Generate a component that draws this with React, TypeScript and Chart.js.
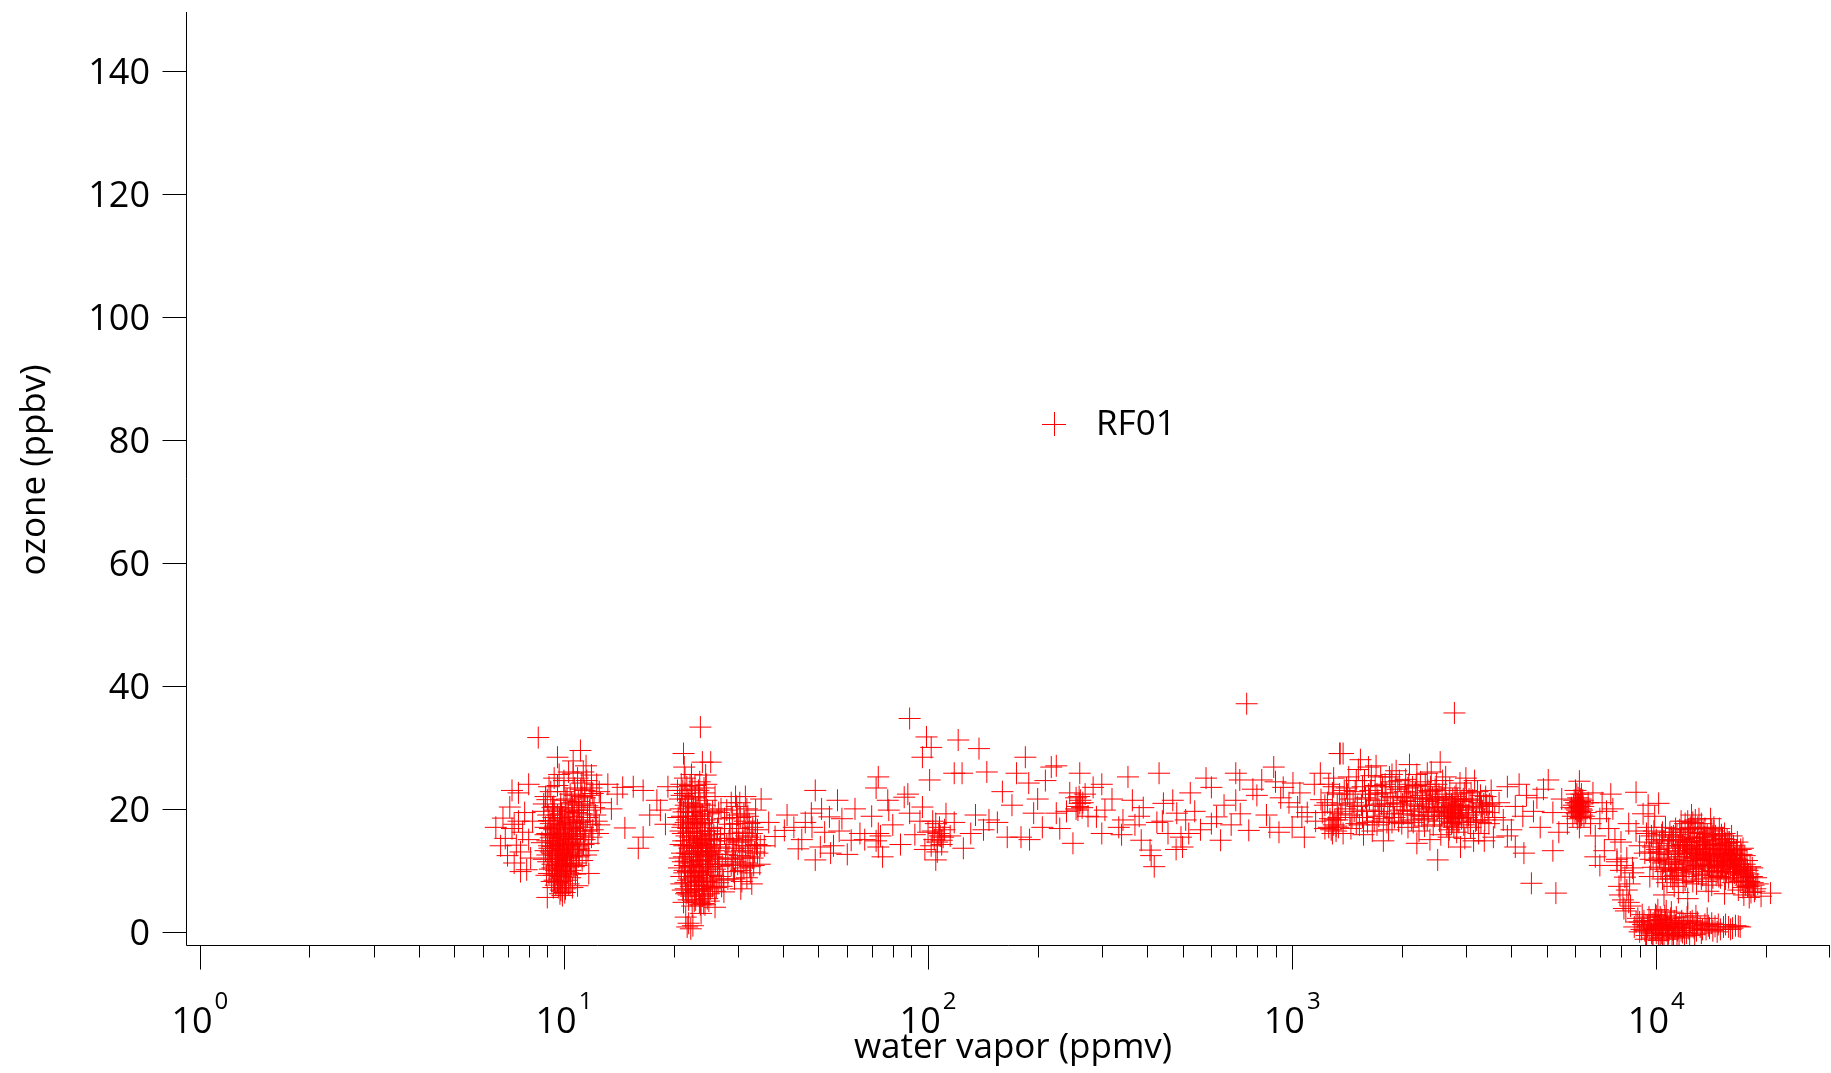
import React, { useEffect, useRef } from 'react';
import { Chart, registerables } from 'chart.js';

Chart.register(...registerables);

type P = [number, number];

const X_MIN = 0.922;
const X_MAX = 30000;
const Y_MIN = -2.3;
const Y_MAX = 149.6;
const yTickValues = [0, 20, 40, 60, 80, 100, 120, 140];
const xMajorExponents = [0, 1, 2, 3, 4];
const xMinorMultipliers = [2, 3, 4, 5, 6, 7, 8, 9];
const seriesLabel = 'RF01';
const xTitle = 'water vapor (ppmv)';
const yTitle = 'ozone (ppbv)';

const groupLeft: P[] = [
  [6.5, 17.0], [6.8, 18.5], [6.9, 15.2], [7.0, 12.4], [7.1, 20.3], [7.2, 16.8], [7.3, 11.2], [7.4, 14.1],
  [7.5, 22.6], [7.5, 18.0], [7.6, 13.0], [7.7, 16.2], [7.8, 19.4], [7.9, 10.1], [8.0, 15.0], [8.0, 24.0],
  [8.1, 12.0], [7.3, 17.5], [7.6, 9.8], [7.2, 23.0], [8.2, 18.0], [6.7, 14.0],
];

const groupTen: P[] = [
  [9.0, 21.5], [9.3, 20.2], [9.6, 19.0], [9.1, 18.1], [9.8, 17.4], [9.4, 16.6], [10.1, 16.0], [9.2, 15.3],
  [9.7, 14.8], [10.3, 14.2], [9.5, 13.6], [9.9, 13.0], [9.0, 12.5], [10.2, 12.0], [9.6, 11.5], [9.3, 11.0],
  [10.0, 10.4], [9.7, 9.9], [9.4, 9.2], [10.4, 8.8], [9.8, 8.2], [9.5, 7.6], [10.1, 7.0], [9.9, 6.6],
  [8.8, 19.6], [8.9, 17.0], [8.7, 14.5], [8.9, 13.2], [8.8, 11.8], [9.1, 9.5], [9.2, 22.8], [10.5, 21.0],
  [10.6, 18.8], [10.8, 17.2], [10.5, 15.5], [10.9, 14.0], [10.6, 12.8], [10.8, 11.2], [10.4, 10.0], [11.0, 19.8],
  [11.2, 22.0], [11.1, 16.4], [11.3, 18.0], [11.0, 13.5], [11.4, 15.0], [11.2, 24.2], [10.7, 23.4], [10.0, 24.6],
  [9.6, 23.8], [11.6, 20.5], [11.8, 17.5], [11.5, 12.5], [12.0, 22.5], [12.2, 19.0], [12.4, 16.0], [11.9, 25.5],
  [12.6, 21.0], [10.3, 26.0], [9.4, 25.0], [11.5, 27.0],
  [9.5, 14.4], [9.8, 15.6], [9.7, 12.2], [9.3, 13.9], [10.0, 14.6], [9.6, 16.9], [9.2, 17.6], [10.2, 17.8],
  [9.9, 18.6], [9.4, 19.8], [10.3, 19.5], [9.5, 10.7], [9.8, 11.8], [10.1, 11.1], [9.3, 12.7], [9.7, 8.6],
  [10.0, 9.1], [9.1, 14.0], [9.0, 16.0], [10.4, 13.3], [10.6, 16.8], [9.8, 20.8], [10.2, 21.6], [10.0, 22.8],
  [8.5, 31.6], [11.1, 29.5], [9.6, 28.4], [10.6, 27.8], [9.0, 5.6], [10.9, 7.5], [9.9, 5.9], [11.7, 9.5],
];

const groupTenCore: P[] = [
  [9.15, 10.2], [9.25, 12.0], [9.35, 14.8], [9.45, 17.2], [9.55, 9.4], [9.65, 12.8], [9.75, 15.2], [9.85, 10.2],
  [9.95, 16.4], [10.05, 12.6], [10.15, 8.4], [10.25, 15.0], [10.35, 11.6], [10.45, 17.0], [10.55, 13.8], [10.65, 10.6],
  [10.75, 15.8], [10.85, 19.4], [10.95, 12.2], [11.05, 17.8], [9.05, 19.0], [9.15, 16.8], [9.25, 8.2], [9.35, 18.6],
  [9.45, 11.4], [9.55, 15.8], [9.65, 7.2], [9.75, 13.6], [9.85, 19.2], [9.95, 11.0], [10.05, 18.2], [10.15, 14.0],
  [10.25, 9.6], [10.35, 16.6], [10.45, 12.2], [10.55, 20.2], [10.65, 14.6], [10.75, 9.4], [10.85, 16.0], [10.95, 21.2],
  [9.6, 13.2], [9.7, 10.8], [9.8, 14.2], [9.9, 12.0], [10.0, 13.8], [9.5, 12.4], [9.4, 15.6], [9.3, 10.4],
  [9.6, 8.0], [9.8, 6.8], [10.1, 9.8], [10.3, 7.8], [9.2, 13.0], [9.0, 14.8], [8.9, 15.8], [8.8, 20.8],
  [8.9, 22.0], [11.3, 20.8], [11.4, 23.0], [11.6, 18.6], [11.8, 22.2], [12.0, 16.6], [11.7, 14.4], [12.3, 24.0],
  [10.4, 22.4], [10.9, 25.0], [11.3, 26.0],
  [8.95, 9.2], [9.05, 11.4], [9.12, 13.6], [9.22, 15.8], [9.28, 18.0], [9.38, 20.4], [9.42, 8.4], [9.52, 10.0],
  [9.58, 11.8], [9.62, 14.0], [9.68, 16.2], [9.72, 18.4], [9.78, 20.0], [9.82, 9.0], [9.88, 11.2], [9.92, 13.4],
  [9.98, 15.4], [10.02, 17.4], [10.08, 19.6], [10.12, 21.4], [10.18, 10.6], [10.22, 12.4], [10.28, 14.4], [10.32, 16.0],
  [10.38, 18.0], [10.42, 9.4], [10.48, 11.0], [10.52, 13.0], [10.58, 15.2], [10.62, 17.6], [10.68, 19.8], [10.72, 22.2],
  [10.78, 13.4], [10.82, 10.8], [10.88, 15.0], [10.92, 18.2], [10.98, 20.6], [11.02, 12.4], [11.08, 15.6], [11.12, 23.2],
  [11.18, 19.2], [11.22, 11.6], [11.28, 17.0], [11.32, 14.2], [11.42, 21.8], [11.48, 16.4], [11.55, 24.6], [11.65, 13.2],
  [11.75, 19.8], [11.9, 15.4], [12.1, 20.2], [12.3, 18.0], [12.5, 22.8], [9.35, 7.2], [9.75, 6.2], [10.05, 6.4],
  [10.55, 7.2], [9.1, 23.6], [9.7, 25.6], [10.6, 25.8], [11.9, 23.4], [12.5, 17.4],
];

const groupBetween: P[] = [
  [13.2, 24.0], [14.5, 23.5], [15.5, 23.6], [16.5, 23.0], [14.7, 16.9], [16.5, 15.4], [16.0, 13.6], [18.0, 21.4],
  [14.0, 22.4], [13.5, 20.0], [17.2, 19.0], [19.0, 17.5], [19.3, 23.6], [18.4, 19.8],
];

const groupTwenty: P[] = [
  [21.0, 24.0], [21.5, 22.5], [22.0, 21.0], [22.5, 23.2], [23.0, 20.2], [23.5, 22.0], [24.0, 19.0], [21.3, 19.5],
  [21.8, 18.2], [22.3, 17.0], [22.8, 18.8], [23.3, 16.3], [23.8, 17.4], [24.3, 15.6], [21.2, 16.0], [21.7, 14.8],
  [22.2, 15.4], [22.7, 13.8], [23.2, 14.5], [23.7, 13.0], [24.5, 12.4], [21.1, 12.8], [21.6, 11.5], [22.1, 12.2],
  [22.6, 10.6], [23.1, 11.4], [23.6, 9.8], [24.1, 10.9], [24.8, 9.2], [21.4, 9.6], [21.9, 8.4], [22.4, 9.0],
  [22.9, 7.6], [23.4, 8.2], [23.9, 6.8], [24.4, 7.4], [25.0, 6.2], [22.0, 6.0], [23.0, 5.2], [24.2, 4.6],
  [25.5, 8.6], [26.0, 10.2], [25.2, 11.8], [26.2, 7.2], [25.8, 13.2], [26.6, 12.0], [25.3, 15.0], [24.9, 17.8],
  [25.6, 19.6], [24.6, 21.4], [22.4, 25.6], [23.6, 24.4], [21.4, 26.8], [20.8, 21.6], [20.6, 18.6], [20.9, 14.2],
  [20.7, 10.4], [21.0, 7.8], [20.5, 23.0], [26.8, 9.0], [27.2, 11.0], [27.5, 6.5],
  [24.0, 27.6], [25.3, 27.6], [23.7, 33.3], [21.3, 29.0], [24.5, 25.5], [26.0, 22.0], [27.0, 20.0],
  [21.8, 0.8], [22.0, 1.4], [22.3, 0.5], [22.6, 1.0], [21.6, 2.4], [23.8, 3.0], [26.0, 4.0],
];

const groupTwentyCore: P[] = [
  [21.2, 23.0], [21.6, 20.6], [22.0, 18.8], [22.4, 22.0], [22.8, 16.0], [23.2, 19.6], [23.6, 15.2], [24.0, 17.6],
  [24.4, 20.6], [21.3, 17.4], [21.7, 15.6], [22.1, 13.6], [22.5, 19.4], [22.9, 14.0], [23.3, 12.6], [23.7, 16.0],
  [24.1, 13.8], [24.5, 11.0], [21.4, 14.0], [21.8, 12.8], [22.2, 10.6], [22.6, 15.0], [23.0, 9.2], [23.4, 13.6],
  [23.8, 11.6], [24.2, 8.8], [24.6, 14.2], [21.5, 10.8], [21.9, 9.8], [22.3, 7.4], [22.7, 11.8], [23.1, 6.6],
  [23.5, 10.4], [23.9, 8.4], [24.3, 6.0], [24.7, 10.6], [21.6, 7.0], [22.0, 5.2], [22.4, 12.6], [22.8, 8.8],
  [23.2, 17.8], [23.6, 7.0], [24.0, 5.8], [24.8, 12.8], [25.2, 9.8], [25.6, 7.4], [26.0, 12.6], [25.4, 13.6],
  [21.1, 18.8], [21.9, 21.6], [22.7, 20.4], [23.5, 18.4], [24.3, 22.6], [25.1, 16.4], [25.9, 14.8], [26.4, 11.0],
  [26.8, 13.8], [27.4, 8.4], [21.3, 4.8], [22.5, 4.2], [23.7, 4.4], [25.0, 5.0], [21.5, 25.0], [22.9, 23.8],
  [20.9, 16.4], [20.8, 12.0], [21.0, 9.0],
  [20.9, 20.0], [21.05, 22.2], [21.15, 17.0], [21.25, 14.8], [21.35, 12.2], [21.45, 10.0], [21.55, 8.0], [21.65, 6.2],
  [21.75, 23.6], [21.85, 19.6], [21.95, 16.8], [22.05, 14.0], [22.15, 11.2], [22.25, 8.6], [22.35, 5.8], [22.45, 20.8],
  [22.55, 17.6], [22.65, 12.6], [22.75, 9.6], [22.85, 6.8], [22.95, 21.8], [23.05, 18.4], [23.15, 15.6], [23.25, 13.2],
  [23.35, 10.0], [23.45, 7.0], [23.55, 4.8], [23.65, 20.8], [23.75, 18.8], [23.85, 14.4], [23.95, 12.2], [24.05, 9.6],
  [24.15, 7.6], [24.25, 23.4], [24.35, 18.2], [24.45, 16.4], [24.55, 13.0], [24.65, 8.2], [24.75, 5.4], [24.85, 15.0],
  [24.95, 11.0], [25.05, 19.2], [25.15, 13.0], [25.25, 7.0], [25.35, 10.6], [25.45, 17.0], [25.55, 12.2], [25.7, 9.2],
  [25.8, 15.8], [25.95, 6.6], [26.1, 11.4], [26.3, 14.2], [26.5, 8.0], [26.7, 10.6], [26.9, 15.2], [27.1, 7.4],
  [21.2, 6.8], [22.2, 23.8], [23.4, 23.0], [24.6, 24.0], [21.6, 17.8], [22.6, 18.0], [23.0, 13.0], [23.8, 9.2],
  [22.4, 10.8], [21.2, 11.4], [21.8, 6.4], [22.8, 5.0], [24.4, 4.4], [23.2, 8.0], [24.0, 14.8], [24.8, 19.8],
  [22.0, 16.2], [23.6, 11.0], [25.0, 14.0], [26.4, 16.8], [27.8, 12.6], [28.2, 8.6], [27.6, 18.4], [26.6, 19.4],
];

const groupThirty: P[] = [
  [28.0, 19.8], [28.5, 17.5], [29.0, 15.2], [29.5, 13.0], [30.0, 11.0], [30.5, 18.6], [31.0, 16.2], [31.5, 14.0],
  [32.0, 12.2], [32.5, 9.6], [33.0, 17.0], [33.5, 15.0], [34.0, 12.8], [30.8, 8.2], [29.2, 9.8], [28.2, 12.0],
  [28.8, 21.0], [31.8, 20.0], [33.6, 19.8], [34.5, 11.0], [32.8, 7.8], [27.6, 16.0], [30.2, 14.6], [31.2, 10.4],
  [29.8, 17.6], [35.5, 14.0], [36.5, 17.8], [34.8, 21.6], [31.5, 22.0],
  [28.4, 14.8], [29.0, 18.6], [29.6, 11.4], [30.2, 16.8], [30.8, 13.2], [31.4, 18.0], [32.0, 15.4], [32.6, 13.6],
  [33.2, 10.8], [33.8, 14.2], [29.4, 8.6], [30.6, 10.0], [31.8, 8.8], [31.0, 12.0], [32.3, 17.6], [29.8, 20.4],
  [30.4, 21.0], [33.0, 12.0], [28.8, 10.8], [31.6, 15.6],
  [28.6, 16.0], [29.2, 13.6], [29.8, 15.0], [30.4, 12.4], [31.0, 14.8], [31.6, 11.2], [32.2, 14.0], [32.8, 16.0],
  [33.4, 13.0], [34.0, 16.6], [29.0, 11.8], [30.0, 19.0], [31.2, 19.2], [32.4, 10.6], [33.6, 17.8], [34.6, 14.0],
  [28.0, 14.2], [30.6, 7.0], [32.0, 18.8], [29.6, 22.0],
];

const groupMiddle: P[] = [
  [40.3, 16.5], [42.8, 17.0], [47.8, 19.3], [49, 23.0], [50.6, 13.8], [53.6, 18.7], [56.4, 21.4], [49, 11.7],
  [61.5, 14.9], [65, 16.0], [73, 25.2], [73, 16.0], [73, 13.8], [77.5, 21.4], [86, 21.9], [89, 19.3],
  [89, 34.7], [99, 31.7], [102, 30.0], [96.5, 28.4], [101, 24.7], [107.5, 17.0], [109, 14.9], [105, 11.7],
  [121, 31.2], [124, 25.8], [138, 29.8], [118, 25.8], [96.5, 20.3], [131, 16.0], [147, 18.2], [165, 15.4],
  [180, 15.4], [175, 25.8], [185, 28.4], [189, 24.2], [195, 19.3], [218, 26.8], [225, 27.0], [206, 17.0],
  [225, 19.3], [261, 20.9], [261, 25.8], [284, 23.5], [250, 14.4], [290, 18.7], [306, 19.8], [334, 17.0],
  [354, 25.2], [364, 21.4], [343, 18.2], [385, 14.9], [407, 13.3], [418, 10.6], [431, 25.8], [443, 20.9],
  [456, 16.0], [482, 19.3], [495, 15.4], [525, 22.6], [510, 18.2], [600, 23.5], [620, 18.7], [636, 14.9],
  [700, 21.4], [718, 24.7], [750, 37.1], [760, 16.5], [825, 24.7], [868, 17.0], [890, 26.8], [945, 23.5],
  [1005, 24.2], [1035, 20.3], [1063, 18.7], [1195, 25.8], [1260, 17.0], [1330, 18.2], [1350, 29.0], [1290, 16.0],
  [38, 15.5], [41, 19.0], [44, 13.5], [46, 17.8], [52, 16.2], [55, 14.0], [58, 18.4], [60, 12.6],
  [63, 20.0], [67, 15.0], [70, 18.8], [75, 12.2], [80, 17.4], [84, 14.2], [92, 15.8], [95, 18.0],
  [98, 13.4], [103, 16.4], [106, 14.6], [112, 19.2], [115, 15.6], [118, 17.8], [125, 13.6], [135, 19.0],
  [142, 16.6], [155, 17.8], [170, 20.6], [200, 21.6], [210, 24.6], [240, 19.6], [245, 22.6], [255, 21.8],
  [258, 19.8], [265, 20.2], [270, 22.4], [275, 18.8], [300, 16.0], [320, 21.6], [340, 15.8], [370, 17.4],
  [390, 20.2], [410, 12.4], [425, 17.8], [470, 21.4], [500, 13.8], [540, 19.6], [560, 16.6], [580, 25.0],
  [650, 20.6], [680, 17.4], [800, 22.2], [850, 19.0], [920, 16.2], [980, 21.0], [1100, 19.4], [1150, 24.0],
  [1080, 15.4], [900, 24.4], [700, 25.8], [300, 24.0], [230, 16.8], [160, 22.8], [145, 26.0], [190, 15.0],
  [88, 22.4], [78, 19.8], [72, 23.4], [104, 15.0], [107, 16.0], [109, 14.2], [105, 17.6], [110, 15.4],
  [72, 14.8], [74, 15.6],
  [100, 16.2], [102, 14.0], [103, 18.0], [108, 15.6], [111, 16.6], [106, 13.0], [262, 21.4], [258, 20.4],
  [266, 21.0], [260, 22.0], [255, 20.0], [45, 15.0], [48, 17.0], [51, 20.0], [54, 12.8], [57, 16.4],
  [380, 18.8], [440, 18.0], [480, 13.4], [520, 16.0], [600, 17.6], [720, 19.2], [780, 23.2], [930, 21.8],
  [1000, 17.0], [1050, 22.6],
];

const groupThousands: P[] = [
  [1160, 18.0], [1200, 21.5], [1230, 16.8], [1260, 24.0], [1290, 19.5], [1320, 17.2], [1350, 22.4], [1380, 16.0],
  [1400, 20.0], [1430, 25.2], [1460, 18.6], [1490, 22.8], [1520, 26.4], [1550, 20.6], [1580, 24.6], [1610, 17.8],
  [1640, 23.0], [1670, 19.6], [1700, 27.0], [1720, 21.4], [1750, 25.2], [1780, 18.4], [1810, 22.6], [1840, 16.6],
  [1870, 24.4], [1900, 20.4], [1930, 26.2], [1960, 18.0], [1990, 22.0], [2020, 19.2], [2050, 24.8], [2080, 17.0],
  [2110, 21.2], [2140, 23.6], [2170, 19.0], [2200, 25.6], [2230, 16.4], [2260, 22.2], [2290, 20.0], [2320, 24.0],
  [2350, 18.2], [2380, 21.6], [2410, 26.0], [2440, 17.4], [2470, 23.2], [2500, 19.8], [2530, 22.4], [2560, 15.8],
  [2590, 24.6], [2620, 18.8], [2650, 21.0], [2680, 20.0], [2710, 23.4], [2740, 17.6], [2770, 19.4], [2800, 22.0],
  [2830, 16.2], [2860, 20.6], [2890, 24.2], [2920, 18.4], [2950, 21.6], [2980, 15.2], [3010, 23.0], [3050, 19.0],
  [3090, 17.0], [3130, 21.4], [3170, 24.6], [3210, 18.2], [3250, 16.0], [3290, 22.2], [3330, 19.6], [3370, 14.8],
  [3420, 20.6], [3470, 17.6], [3520, 23.0], [3570, 15.4],
  [1250, 21.0], [1300, 23.6], [1340, 18.6], [1370, 20.8], [1420, 22.4], [1480, 19.6], [1530, 17.4], [1590, 21.8],
  [1660, 16.4], [1690, 23.8], [1730, 18.8], [1760, 20.8], [1800, 24.0], [1850, 19.2], [1890, 21.8], [1950, 23.2],
  [2000, 17.6], [2060, 21.8], [2120, 19.6], [2180, 22.6], [2240, 20.4], [2300, 18.4], [2360, 23.0], [2420, 20.2],
  [2480, 21.4], [2540, 18.0], [2600, 20.4], [2660, 17.2], [2720, 19.2], [2760, 21.6], [2820, 18.6], [2870, 17.8],
  [2940, 19.8], [3000, 20.4], [3100, 22.6], [3200, 20.0], [3300, 17.8], [3400, 22.0], [1540, 28.0], [1620, 26.8],
  [2100, 27.2], [2550, 27.6], [1380, 29.0], [2200, 14.4], [1780, 14.8], [2900, 13.8],
  [2790, 35.6], [1355, 29.0], [2510, 11.7],
];

const groupThousandsCore: P[] = [
  [1410, 23.4], [1440, 19.0], [1470, 21.0], [1500, 17.6], [1560, 23.6], [1600, 19.8], [1630, 21.6], [1650, 25.4],
  [1680, 18.0], [1710, 22.4], [1740, 19.6], [1770, 23.6], [1790, 20.4], [1820, 17.8], [1860, 22.0], [1880, 25.6],
  [1910, 18.6], [1940, 21.0], [1970, 24.6], [2010, 20.8], [2040, 22.8], [2070, 19.8], [2090, 24.0], [2130, 18.2],
  [2160, 20.6], [2190, 23.8], [2220, 19.0], [2250, 24.4], [2280, 21.6], [2310, 17.2], [2340, 21.2], [2370, 19.4],
  [2400, 23.6], [2430, 21.8], [2460, 18.8], [2490, 24.0], [2520, 20.2], [2580, 22.0], [2610, 19.6], [2640, 23.0],
  [2670, 18.4], [2700, 21.4], [2730, 18.8], [2750, 20.6], [2780, 17.0], [2810, 19.8], [2840, 21.6], [2850, 18.0],
  [2880, 19.2], [2910, 21.2], [2960, 17.4], [3020, 18.6], [3060, 21.6], [3150, 19.4], [3230, 22.8], [3310, 20.4],
  [3380, 18.2], [3450, 19.4], [3550, 20.4], [1330, 20.6], [1270, 18.4], [1210, 19.4], [1450, 16.8], [1570, 15.8],
  [2390, 15.0], [2690, 15.4], [3150, 14.8], [1300, 17.4], [1320, 16.4], [1340, 17.0], [1310, 18.2], [1280, 16.6],
  [1230, 20.6], [1290, 22.6], [1360, 19.2], [1390, 23.0], [1440, 21.6], [1510, 20.4], [1560, 18.6], [1620, 22.4],
  [1690, 20.6], [1710, 17.4], [1760, 22.6], [1830, 20.8], [1880, 17.8], [1920, 23.6], [1980, 19.8], [2030, 21.4],
  [2080, 23.4], [2150, 17.8], [2210, 21.8], [2270, 18.8], [2330, 20.8], [2390, 22.8], [2450, 19.6], [2510, 21.6],
  [2570, 19.0], [2630, 21.8], [2690, 19.4], [2740, 20.8], [2760, 18.4], [2790, 20.2], [2820, 22.4], [2860, 18.8],
  [2900, 20.6], [2970, 22.6], [3040, 17.8], [3120, 20.2], [3190, 18.0], [3270, 21.0], [3360, 20.8], [3480, 20.8],
  [3600, 18.6], [2700, 16.6], [2750, 17.8], [2800, 19.0], [1500, 24.6], [1850, 25.2], [2350, 25.8], [1300, 25.0],
  [2640, 25.2], [3000, 25.0],
];

const groupSixThousand: P[] = [
  [3700, 21.0], [3800, 18.2], [3900, 23.6], [4000, 16.6], [4100, 20.4], [4200, 24.0], [4300, 18.8], [4400, 22.2],
  [4330, 12.8], [4540, 7.9], [5300, 6.3], [4600, 19.6], [4700, 21.8], [4800, 17.0], [4900, 23.2], [5050, 24.7],
  [5200, 19.4], [5400, 16.2], [5500, 21.6], [5700, 17.6], [5200, 13.2], [4100, 13.8], [3900, 15.6],
  [5850, 20.2], [5950, 21.4], [6050, 19.2], [6150, 20.6], [6250, 19.8], [6000, 20.0], [6100, 21.8], [6200, 18.6],
  [6300, 20.4], [6050, 22.4], [5900, 18.8], [6400, 19.4], [6150, 24.5], [6500, 21.0], [6600, 17.6], [6150, 17.0],
  [6000, 23.0], [6080, 20.8], [6120, 19.6], [6180, 21.2], [6220, 20.0], [6100, 20.2], [6060, 19.8], [6160, 20.4],
  [6200, 21.6], [6020, 21.0], [6240, 19.0], [6140, 18.8], [6280, 21.4],
  [5980, 19.4], [6110, 21.0], [6190, 19.6], [6260, 20.8], [6070, 18.4], [6230, 22.4], [6330, 18.8], [5930, 20.6],
  [6800, 15.6], [7000, 18.4], [7200, 13.2], [7400, 16.8], [7600, 20.0], [7800, 11.4], [8000, 14.6], [8200, 8.9],
  [8300, 12.0], [8100, 5.2], [8400, 17.6], [8600, 10.4], [8800, 22.7], [9000, 14.0], [9200, 19.2], [8300, 6.8],
  [8000, 10.0], [7900, 7.4], [8500, 4.2], [7500, 22.4], [7000, 10.8], [6800, 12.2], [7300, 19.6], [8800, 16.4],
  [9300, 12.8], [9500, 17.0], [7700, 15.0], [7100, 21.0], [6700, 22.6], [8150, 3.8],
  [8000, 10.8], [8450, 7.8], [8650, 9.6], [7950, 6.0], [8400, 4.8], [8250, 3.4], [7800, 11.8],
];

const groupTenThousand: P[] = [
  [9400, 16.0], [9600, 13.0], [9800, 10.5], [10000, 15.0], [10200, 12.0], [10400, 8.6], [10600, 17.0], [10800, 14.0],
  [11000, 11.0], [11200, 7.4], [11400, 15.8], [11600, 12.8], [11800, 9.6], [12000, 17.6], [12200, 14.6], [12400, 11.6],
  [12600, 8.2], [12800, 18.2], [13000, 15.4], [13200, 12.4], [13400, 9.2], [13600, 16.8], [13800, 13.6], [14000, 10.6],
  [14200, 7.6], [14400, 17.0], [14600, 14.2], [14800, 11.2], [15000, 8.8], [15200, 15.2], [15400, 12.2], [15600, 9.8],
  [15800, 13.4], [16000, 10.8], [16200, 8.0], [16400, 12.0], [16600, 9.4], [16800, 6.8], [17000, 11.0], [17200, 8.4],
  [17400, 6.0], [17600, 10.2], [17800, 7.4], [18000, 5.6], [18300, 9.0], [18600, 6.6], [19000, 7.8], [19400, 5.8],
  [20600, 6.3],
  [10300, 10.2], [10700, 12.6], [11100, 14.8], [11500, 10.0], [11900, 12.2], [12300, 16.2], [12700, 13.4], [13100, 10.8],
  [13500, 14.0], [13900, 11.8], [14300, 15.6], [14700, 12.8], [15100, 10.4], [15500, 14.4], [15900, 11.6], [16300, 14.0],
  [16700, 11.8], [17100, 9.2], [17500, 12.4], [12100, 9.0], [12900, 7.8], [13700, 8.2], [11300, 13.2], [10900, 16.2],
  [11700, 18.0], [12500, 19.0], [13300, 17.6], [14100, 18.4], [14900, 16.8], [11500, 6.4], [13900, 6.6], [15400, 6.2],
  [12200, 5.4], [10500, 6.0], [16100, 15.6], [17300, 13.6], [9900, 18.8], [9500, 20.6], [10150, 20.9], [12000, 11.2],
  [12800, 12.0], [13600, 12.2], [14400, 10.0], [11200, 10.4],
];

const groupTenThousandCore: P[] = [
  [10200, 14.4], [10400, 16.2], [10600, 9.8], [10800, 11.8], [11000, 15.4], [11200, 12.6], [11400, 9.0], [11600, 16.6],
  [11800, 14.2], [12000, 8.4], [12200, 12.8], [12400, 17.0], [12600, 14.8], [12800, 10.2], [13000, 12.8], [13200, 16.0],
  [13400, 14.6], [13600, 10.4], [13800, 15.8], [14000, 13.0], [14200, 16.6], [14400, 12.2], [14600, 9.2], [14800, 14.8],
  [15000, 12.4], [15200, 10.6], [15400, 16.0], [15600, 13.4], [15800, 8.8], [16000, 13.0], [16200, 11.4], [16400, 9.6],
  [16600, 13.2], [16800, 10.4], [17000, 8.2], [17200, 11.6], [17400, 9.6], [17600, 7.6], [17800, 10.0], [18000, 8.2],
  [18200, 6.4], [18500, 7.6], [18800, 8.8], [10100, 9.0], [10300, 13.0], [10500, 14.8], [10700, 8.0], [10900, 10.4],
  [11100, 8.6], [11300, 16.8], [11500, 14.0], [11700, 11.0], [11900, 15.0], [12100, 13.6], [12300, 10.4], [12500, 13.2],
  [12700, 16.8], [12900, 14.0], [13100, 13.6], [13300, 8.6], [13500, 11.6], [13700, 14.8], [13900, 9.8], [14100, 12.0],
  [14300, 8.8], [14500, 14.0], [14700, 10.8], [14900, 13.6], [15100, 15.8], [15300, 11.4], [15500, 8.6], [15700, 11.2],
  [15900, 14.6], [16100, 12.6], [16300, 10.2], [16500, 11.0], [16700, 14.6], [16900, 12.4], [17100, 10.6], [17300, 7.2],
  [17500, 11.0], [17700, 8.8], [17900, 9.4], [18100, 10.6], [18400, 8.0], [10000, 11.6], [9800, 13.8], [9700, 15.6],
  [9600, 9.0], [12200, 18.0], [13000, 17.0], [12600, 12.0], [13400, 12.8], [14200, 11.0], [12900, 10.8], [11900, 10.2],
  [11300, 11.8],
  [10150, 12.8], [10350, 15.8], [10550, 11.4], [10750, 13.6], [10950, 9.0], [11150, 15.6], [11350, 10.2], [11550, 12.2],
  [11750, 16.2], [11950, 13.8], [12150, 11.4], [12350, 14.0], [12550, 9.8], [12750, 15.2], [12950, 12.6], [13150, 14.6],
  [13350, 11.0], [13550, 15.4], [13750, 12.6], [13950, 14.2], [14150, 9.8], [14350, 13.6], [14550, 15.6], [14750, 9.6],
  [14950, 12.0], [15150, 13.2], [15350, 9.8], [15550, 12.8], [15750, 14.6], [15950, 9.8], [16150, 11.8], [16350, 13.4],
  [16550, 12.4], [16750, 9.8], [16950, 11.0], [17150, 12.6], [17350, 10.0], [17550, 8.8], [17750, 11.6], [17950, 7.4],
  [18150, 9.0], [18350, 10.4], [18700, 7.0], [11050, 10.0], [11450, 13.0], [11850, 8.0], [12250, 16.6], [12650, 10.6],
  [13050, 9.4], [13450, 16.2], [13850, 10.8], [14250, 14.4], [14650, 11.6], [15050, 14.0], [15450, 11.0], [15850, 12.6],
  [16250, 12.8], [16650, 10.6], [17050, 13.4], [12450, 15.4], [12850, 13.0], [13250, 11.8], [13650, 13.4], [14050, 15.0],
  [14450, 11.4], [14850, 9.0], [15250, 12.6], [15650, 15.0], [12050, 14.6], [11650, 15.0], [11250, 9.2], [10850, 15.0],
  [10450, 11.2], [10050, 13.4], [9850, 16.4], [9550, 14.6], [9650, 11.8], [12600, 17.8], [14400, 16.4], [13100, 18.4],
];

const groupZero: P[] = [
  [8700, 0.8], [9000, 1.6], [9300, 0.2], [9500, 1.0], [9700, -0.2], [9900, 1.8], [10100, 0.6], [10300, 1.2],
  [10500, -0.4], [10700, 0.9], [10900, 1.5], [11100, 0.3], [11300, 1.1], [11500, 0.7], [11800, -0.1], [12000, 1.3],
  [12300, 0.5], [12600, 1.0], [12900, 0.2], [13200, 0.8], [13600, 1.2], [14000, 0.6], [14500, 0.9], [15000, 0.4],
  [15800, 0.8], [16500, 1.0], [12200, 3.0], [11000, 3.2], [10000, 2.6], [13800, 2.2], [9800, -0.6], [10400, -1.0],
  [9100, 0.4], [9200, 1.2], [9400, -0.6], [9600, 0.6], [9800, 1.4], [10000, -0.2], [10200, 1.0], [10400, 0.4],
  [10600, 1.6], [10800, -0.3], [11000, 0.9], [11200, 1.8], [11400, -0.4], [11600, 1.2], [11700, 0.2], [11900, 0.8],
  [12100, -0.2], [12400, 1.6], [10050, 0.8], [10250, -0.6], [10650, 0.2], [10150, 1.9], [9950, 0.3], [10350, 2.0],
  [9650, 1.8], [11250, 0.5], [10750, 1.3], [12700, 0.6], [13000, 1.4], [13400, 0.4], [13900, 1.0], [14300, 0.2],
  [14800, 1.2], [15300, 0.8], [16000, 0.4], [16800, 0.9], [9000, 0.0], [8800, 1.6],
  [8900, 2.2], [9150, 2.8], [9350, -1.2], [9550, 2.4], [9750, -1.0], [9950, 2.8], [10150, -1.4], [10350, -0.2],
  [10550, 2.6], [10750, -1.2], [10950, 2.2], [11150, -0.8], [11350, 2.4], [11550, -1.0], [11750, 1.8], [11950, -0.8],
  [12150, 2.4], [12350, -0.6], [12550, 1.8], [12750, -0.4], [12950, 1.6], [9450, 0.8], [9850, 0.6], [10450, 0.8],
  [10850, 0.6], [11050, -0.6], [11450, 0.2], [11850, 1.4], [10650, 3.4], [10250, 2.4], [9250, 1.8], [12850, 2.6],
  [13300, -0.2], [13700, 0.4], [14200, 1.4], [14700, 0.0], [15500, 1.2], [16200, 0.6], [17000, 0.8], [10100, 3.6],
];

const allPoints: P[] = [
  ...groupLeft, ...groupTen, ...groupTenCore, ...groupBetween, ...groupTwenty, ...groupTwentyCore,
  ...groupThirty, ...groupMiddle, ...groupThousands, ...groupThousandsCore, ...groupSixThousand,
  ...groupTenThousand, ...groupTenThousandCore, ...groupZero,
];

const FONT = "'Open Sans', 'DejaVu Sans', sans-serif";

const axesPlugin = {
  id: 'igorAxes',
  afterDraw(chart: any) {
    const ctx: CanvasRenderingContext2D = chart.ctx;
    const xs = chart.scales.x;
    const ys = chart.scales.y;
    const ca = chart.chartArea;
    const axX = Math.round(ca.left) - 0.5;
    const axY = Math.round(ca.bottom) - 0.5;
    ctx.save();
    ctx.strokeStyle = '#000';
    ctx.lineWidth = 1;
    ctx.beginPath();
    ctx.moveTo(axX, Math.round(ca.top));
    ctx.lineTo(axX, axY);
    ctx.lineTo(Math.round(ca.right), axY);
    ctx.stroke();

    ctx.fillStyle = '#000';
    ctx.font = `36px ${FONT}`;
    ctx.textAlign = 'right';
    ctx.textBaseline = 'alphabetic';
    for (const v of yTickValues) {
      const py = Math.round(ys.getPixelForValue(v)) + 0.5;
      ctx.beginPath();
      ctx.moveTo(axX - 24, py);
      ctx.lineTo(axX, py);
      ctx.stroke();
      ctx.fillText(String(v), 150, py + 12.5);
    }

    for (const e of xMajorExponents) {
      const base = Math.pow(10, e);
      const px = Math.round(xs.getPixelForValue(base)) + 0.5;
      ctx.beginPath();
      ctx.moveTo(px, axY);
      ctx.lineTo(px, axY + 24);
      ctx.stroke();
      for (const m of xMinorMultipliers) {
        const v = m * base;
        if (v > X_MAX + 1) continue;
        const mx = Math.min(Math.round(xs.getPixelForValue(v)) + 0.5, Math.round(ca.right) - 0.5);
        ctx.beginPath();
        ctx.moveTo(mx, axY);
        ctx.lineTo(mx, axY + 12);
        ctx.stroke();
      }
      ctx.textAlign = 'left';
      ctx.font = `36px ${FONT}`;
      const w1 = ctx.measureText('10').width;
      ctx.font = `24px ${FONT}`;
      const w2 = ctx.measureText(String(e)).width;
      const total = w1 + 2 + w2;
      const sx = xs.getPixelForValue(base) - total / 2;
      ctx.font = `36px ${FONT}`;
      ctx.fillText('10', sx, 1033);
      ctx.font = `24px ${FONT}`;
      ctx.fillText(String(e), sx + w1 + 2, 1009);
    }

    ctx.font = `35px ${FONT}`;
    ctx.textAlign = 'center';
    ctx.fillText(xTitle, 1013, 1058);
    ctx.save();
    ctx.translate(45, 470);
    ctx.rotate(-Math.PI / 2);
    ctx.font = `35px ${FONT}`;
    ctx.fillText(yTitle, 0, 0);
    ctx.restore();

    ctx.strokeStyle = 'rgb(255,0,0)';
    ctx.beginPath();
    ctx.moveTo(1042, 424.5);
    ctx.lineTo(1066, 424.5);
    ctx.moveTo(1054.5, 412);
    ctx.lineTo(1054.5, 436);
    ctx.stroke();
    ctx.font = `35px ${FONT}`;
    ctx.textAlign = 'left';
    ctx.fillText(seriesLabel, 1096, 435);
    ctx.restore();
  },
};

export default function App() {
  const ref = useRef<HTMLCanvasElement | null>(null);
  useEffect(() => {
    if (!ref.current) return;
    const chart = new Chart(ref.current, {
      type: 'scatter',
      data: {
        datasets: [
          {
            label: seriesLabel,
            data: allPoints.map(([x, y]) => ({ x, y })),
            pointStyle: 'cross',
            pointRadius: 11,
            pointBorderWidth: 1,
            borderColor: 'rgb(255,0,0)',
            backgroundColor: 'rgb(255,0,0)',
            showLine: false,
          },
        ],
      },
      options: {
        responsive: false,
        animation: false,
        devicePixelRatio: 1,
        layout: { autoPadding: false, padding: { left: 187, right: 1, top: 12, bottom: 127 } },
        plugins: { legend: { display: false }, tooltip: { enabled: false } },
        scales: {
          x: { type: 'logarithmic', min: X_MIN, max: X_MAX, display: false },
          y: { type: 'linear', min: Y_MIN, max: Y_MAX, display: false },
        },
      },
      plugins: [axesPlugin],
    });
    return () => chart.destroy();
  }, []);
  return (
    <div style={{ position: 'fixed', left: 0, top: 0, width: 1831, height: 1073, background: '#fff' }}>
      <canvas ref={ref} width={1831} height={1073} style={{ display: 'block' }} />
    </div>
  );
}
